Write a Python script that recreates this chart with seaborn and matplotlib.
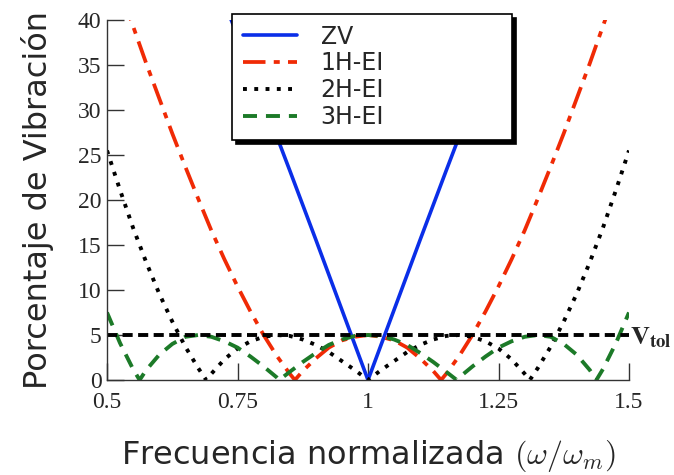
import numpy as np
import pandas as pd
import matplotlib
matplotlib.use("Agg")
import matplotlib.pyplot as plt
import seaborn as sns

# datos: porcentaje de vibración residual vs frecuencia normalizada
freq_zv = [0.70, 0.75, 0.80, 0.85, 0.90, 0.95, 1.00, 1.05, 1.10, 1.15, 1.20, 1.25, 1.30]
vib_zv = [45.4, 38.3, 30.9, 23.3, 15.6, 7.8, 0.0, 7.8, 15.6, 23.3, 30.9, 38.3, 45.4]

freq_1h = [0.500, 0.525, 0.550, 0.575, 0.600, 0.625, 0.650, 0.675, 0.700, 0.725, 0.750,
           0.775, 0.800, 0.825, 0.850, 0.860, 0.875, 0.900, 0.925, 0.950, 0.975, 1.000,
           1.025, 1.050, 1.075, 1.100, 1.125, 1.140, 1.150, 1.175, 1.200, 1.225, 1.250,
           1.275, 1.300, 1.325, 1.350, 1.375, 1.400, 1.425, 1.450, 1.475, 1.500]
vib_1h = [47.5, 43.4, 39.3, 35.2, 31.3, 27.4, 23.7, 20.1, 16.6, 13.4, 10.4,
          7.6, 5.0, 2.7, 0.7, 0.0, 1.0, 2.4, 3.6, 4.4, 4.8, 5.0,
          4.8, 4.4, 3.6, 2.4, 1.0, 0.0, 0.7, 2.7, 5.0, 7.6, 10.4,
          13.4, 16.6, 20.1, 23.7, 27.4, 31.3, 35.2, 39.3, 43.4, 47.5]

freq_2h = [0.500, 0.525, 0.550, 0.575, 0.600, 0.625, 0.650, 0.675, 0.690, 0.700, 0.725,
           0.750, 0.775, 0.800, 0.825, 0.850, 0.875, 0.900, 0.925, 0.950, 0.975, 1.000,
           1.025, 1.050, 1.075, 1.100, 1.125, 1.150, 1.175, 1.200, 1.225, 1.250, 1.275,
           1.300, 1.310, 1.325, 1.350, 1.375, 1.400, 1.425, 1.450, 1.475, 1.500]
vib_2h = [25.5, 21.1, 16.9, 13.1, 9.6, 6.5, 3.7, 1.3, 0.0, 0.7, 2.3,
          3.5, 4.3, 4.8, 5.0, 4.9, 4.5, 3.9, 3.1, 2.1, 1.1, 0.0,
          1.1, 2.1, 3.1, 3.9, 4.5, 4.9, 5.0, 4.8, 4.3, 3.5, 2.3,
          0.7, 0.0, 1.3, 3.7, 6.5, 9.6, 13.1, 16.9, 21.1, 25.5]

freq_3h = [0.500, 0.525, 0.550, 0.5625, 0.575, 0.600, 0.625, 0.650, 0.675, 0.700, 0.725,
           0.750, 0.775, 0.800, 0.825, 0.830, 0.850, 0.875, 0.900, 0.925, 0.950, 0.975,
           1.000, 1.025, 1.050, 1.075, 1.100, 1.125, 1.150, 1.170, 1.175, 1.200, 1.225,
           1.250, 1.275, 1.300, 1.325, 1.350, 1.375, 1.400, 1.425, 1.4375, 1.450, 1.475, 1.500]
vib_3h = [7.5, 4.1, 1.2, 0.0, 1.1, 2.8, 4.0, 4.8, 5.0, 4.8, 4.3,
          3.6, 2.6, 1.5, 0.3, 0.0, 0.9, 2.0, 3.0, 3.9, 4.5, 4.9,
          5.0, 4.9, 4.5, 3.9, 3.0, 2.0, 0.9, 0.0, 0.3, 1.5, 2.6,
          3.6, 4.3, 4.8, 5.0, 4.8, 4.0, 2.8, 1.1, 0.0, 1.2, 4.1, 7.5]

v_tol = 5
x_ticks = [0.5, 0.75, 1.0, 1.25, 1.5]
x_tick_labels = ["0.5", "0.75", "1", "1.25", "1.5"]
y_ticks = [0, 5, 10, 15, 20, 25, 30, 35, 40]

sns.set_style("ticks")
plt.rcParams['font.family'] = ['DejaVu Sans']

fig = plt.figure(figsize=(6.74, 4.75), dpi=100)
ax = fig.add_axes([107 / 674, 95 / 475, 522 / 674, 360 / 475])

sns.lineplot(x=freq_zv, y=vib_zv, ax=ax, color="#0a2ee8", linewidth=2.6, label="ZV")
sns.lineplot(x=freq_1h, y=vib_1h, ax=ax, color="#f02a05", linewidth=2.7,
             linestyle=(0, (6, 2.2, 1.6, 2.2)), label="1H-EI")
sns.lineplot(x=freq_2h, y=vib_2h, ax=ax, color="black", linewidth=2.8,
             linestyle=(0, (1, 1.9)), label="2H-EI")
sns.lineplot(x=freq_3h, y=vib_3h, ax=ax, color="#1c7a28", linewidth=2.8,
             linestyle=(0, (3.6, 2.3)), label="3H-EI")
ax.axhline(v_tol, color="black", linewidth=2.8, linestyle=(0, (2.6, 1.4)))
ax.text(1.502, v_tol - 0.3, r"$\mathbf{V}_{\mathbf{tol}}$", fontsize=19, va="center", ha="left",
        math_fontfamily="stix", clip_on=False)

ax.set_xlim(0.5, 1.5)
ax.set_ylim(0, 40)
ax.set_xticks(x_ticks)
ax.set_xticklabels(x_tick_labels)
ax.set_yticks(y_ticks)
for lab in ax.get_xticklabels() + ax.get_yticklabels():
    lab.set_family("Liberation Serif")
    lab.set_fontsize(17)
ax.tick_params(axis="both", direction="in", length=12, width=1, color="#333333")
ax.tick_params(axis="x", pad=9)
ax.tick_params(axis="y", pad=4)
sns.despine(ax=ax)
for s in ["left", "bottom"]:
    ax.spines[s].set_linewidth(1)
    ax.spines[s].set_color("#333333")

ax.set_xlabel(r"Frecuencia normalizada $\left(\omega/\omega_m\right)$", fontsize=23,
              labelpad=18, math_fontfamily="cm")
ax.set_ylabel("Porcentaje de Vibración", fontsize=23, labelpad=17)

# leyenda ancha y opaca, tapa la parte alta de la curva ZV
leg = ax.legend(loc="upper left", bbox_to_anchor=(0.2395, 0.5, 0.536, 0.517),
                mode="expand", borderaxespad=0, borderpad=0.45,
                fontsize=17, handlelength=2.3, handletextpad=1.0, labelspacing=0.12,
                frameon=True, fancybox=False, framealpha=1, edgecolor="black",
                shadow={"color": "black", "alpha": 1, "ox": 3, "oy": -3})
leg.get_frame().set_linewidth(1.2)

fig.savefig("out.png", dpi=100)
